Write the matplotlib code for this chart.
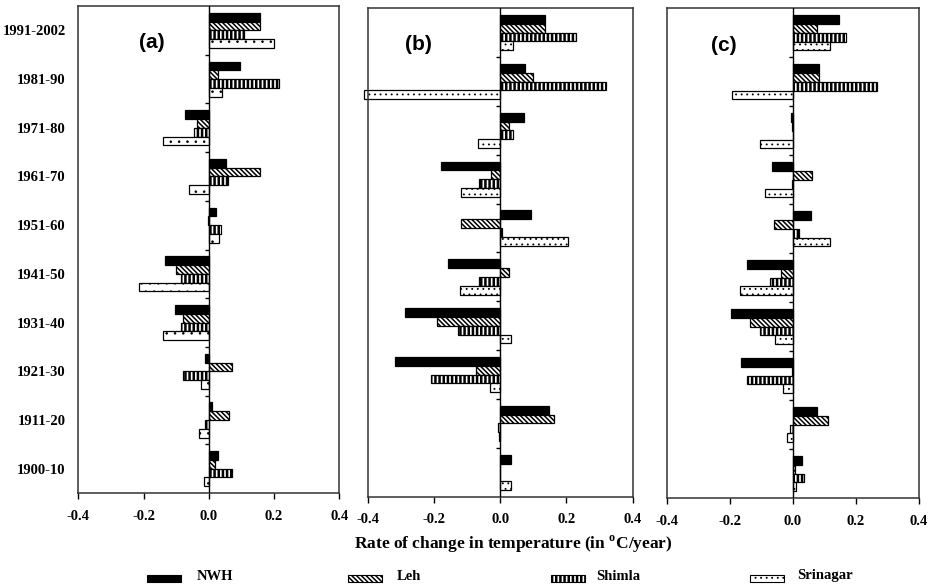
import numpy as np
import matplotlib.pyplot as plt
from matplotlib.patches import Rectangle

plt.rcParams['font.family'] = 'Liberation Serif'
plt.rcParams['font.weight'] = 'bold'
plt.rcParams['mathtext.fontset'] = 'custom'
plt.rcParams['mathtext.bf'] = 'Liberation Serif:bold'
plt.rcParams['mathtext.rm'] = 'Liberation Serif:bold'

# decades, bottom to top
decadas = ['1900-10', '1911-20', '1921-30', '1931-40', '1941-50',
           '1951-60', '1961-70', '1971-80', '1981-90', '1991-2002']
estaciones = ['NWH', 'Leh', 'Shimla', 'Srinagar']

# rate of change (degC/year) for each panel, one list per station
nwh_a = [0.028, 0.009, -0.012, -0.103, -0.134, 0.022, 0.052, -0.073, 0.095, 0.156]
leh_a = [0.019, 0.063, 0.070, -0.080, -0.099, -0.002, 0.156, -0.035, 0.029, 0.156]
shimla_a = [0.072, -0.011, -0.078, -0.084, -0.084, 0.037, 0.060, -0.045, 0.215, 0.108]
srinagar_a = [-0.014, -0.031, -0.025, -0.140, -0.215, 0.032, -0.060, -0.140, 0.039, 0.200]

nwh_b = [0.032, 0.146, -0.317, -0.289, -0.158, 0.092, -0.178, 0.073, 0.075, 0.136]
leh_b = [-0.001, 0.161, -0.073, -0.192, 0.027, -0.117, -0.029, 0.025, 0.099, 0.134]
shimla_b = [-0.002, -0.008, -0.208, -0.126, -0.063, 0.006, -0.063, 0.039, 0.320, 0.229]
srinagar_b = [0.034, -0.004, -0.032, 0.032, -0.120, 0.206, -0.118, -0.068, -0.410, 0.040]

nwh_c = [0.028, 0.077, -0.165, -0.196, -0.146, 0.057, -0.065, -0.005, 0.084, 0.145]
leh_c = [0.008, 0.110, -0.002, -0.135, -0.037, -0.060, 0.062, -0.002, 0.084, 0.076]
shimla_c = [0.036, -0.010, -0.145, -0.105, -0.073, 0.019, -0.003, -0.001, 0.266, 0.168]
srinagar_c = [0.009, -0.018, -0.030, -0.055, -0.168, 0.118, -0.087, -0.105, -0.192, 0.119]

paneles = [('(a)', [nwh_a, leh_a, shimla_a, srinagar_a]),
           ('(b)', [nwh_b, leh_b, shimla_b, srinagar_b]),
           ('(c)', [nwh_c, leh_c, shimla_c, srinagar_c])]

# fill, hatch and hatch line width for each station
rellenos = ['black', 'white', 'white', 'white']
tramas = [None, '\\\\\\\\\\\\\\', '||||', '...']
grosores = [1.0, 1.1, 1.8, 0.6]
trama_puntos_a = '..'   # panel (a) has sparser dots

# axes boxes in figure fraction [left, bottom, width, height]
cajas = [[0.0837, 0.1601, 0.2792, 0.8296],
         [0.3933, 0.1538, 0.2834, 0.8321],
         [0.7130, 0.1516, 0.2699, 0.8342]]
letra_x = [0.28, 0.19, 0.227]


def barras_con_trama(ax, pos, valores, j, trama):
    # hatch line width is taken when the patch is made
    with plt.rc_context({'hatch.linewidth': grosores[j]}):
        barras = ax.barh(pos, valores, height=alto, color=rellenos[j], hatch=trama,
                         edgecolor='black', linewidth=0.9, clip_on=False, zorder=2)
    for b in barras:
        if hasattr(b, 'set_hatch_linewidth'):
            b.set_hatch_linewidth(grosores[j])
    return barras


fig = plt.figure(figsize=(9.35, 5.87), dpi=100)
y = np.arange(len(decadas))
alto = 0.18

for k, (letra, series) in enumerate(paneles):
    ax = fig.add_axes(cajas[k])
    for j, valores in enumerate(series):
        trama = tramas[j]
        if k == 0 and j == 3:
            trama = trama_puntos_a
        # NWH on top of each group, Srinagar at the bottom
        barras_con_trama(ax, y + (1.5 - j) * alto, valores, j, trama)
    ax.axvline(0, color='black', linewidth=1.0, zorder=3)
    # little ticks on the zero line between decades
    ax.plot(np.zeros(len(decadas) - 1), y[:-1] + 0.5, ls='none', marker=0,
            ms=3, mew=1, color='black', zorder=3)
    ax.set_xlim(-0.4, 0.4)
    ax.set_ylim(-0.5, len(decadas) - 0.5)
    ax.set_xticks([-0.4, -0.2, 0.0, 0.2, 0.4])
    ax.set_xticklabels(['-0.4', '-0.2', '0.0', '0.2', '0.4'])
    ax.set_yticks(y)
    if k == 0:
        ax.set_yticklabels(decadas)
    else:
        ax.set_yticklabels([])
    ax.tick_params(axis='x', direction='out', length=4, width=1, pad=8, labelsize=10.5)
    ax.tick_params(axis='y', length=0, pad=9, labelsize=10.5)
    for lado in ax.spines.values():
        lado.set_color('#333333')
        lado.set_linewidth(1.1)
    ax.text(letra_x[k], 0.925, letra, transform=ax.transAxes, ha='center', va='center',
            fontsize=15, fontweight='bold', family='Liberation Sans')

fig.text(0.549, 1 - 544 / 587, r'Rate of change in temperature (in $^{\mathbf{o}}$C/year)',
         ha='center', va='center', fontsize=12.5, fontweight='bold')

# legend drawn by hand so the entries are evenly spread
cuadro_x = [147, 348, 551, 750]
texto_x = [197, 397, 596, 797]
for j, nombre in enumerate(estaciones):
    with plt.rc_context({'hatch.linewidth': grosores[j]}):
        cuadro = Rectangle((cuadro_x[j] / 935, 1 - 582 / 587), 34 / 935, 7 / 587,
                           transform=fig.transFigure, facecolor=rellenos[j],
                           hatch=tramas[j], edgecolor='black', linewidth=0.8)
    if hasattr(cuadro, 'set_hatch_linewidth'):
        cuadro.set_hatch_linewidth(grosores[j])
    fig.add_artist(cuadro)
    fig.text(texto_x[j] / 935, 1 - 576 / 587, nombre, ha='left', va='center',
             fontsize=10.5, fontweight='bold')

fig.savefig('out.png', dpi=100)
